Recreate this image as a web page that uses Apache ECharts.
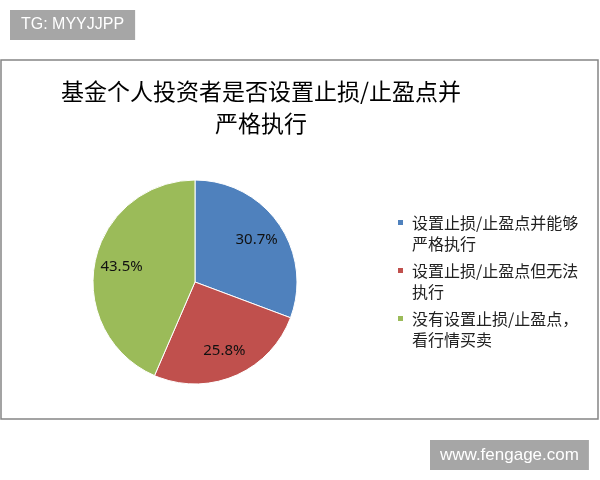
<!DOCTYPE html>
<html><head><meta charset="utf-8">
<script src="https://cdn.jsdelivr.net/npm/echarts@6/dist/echarts.min.js"></script>
<style>html,body{margin:0;padding:0;background:#fff}#c{width:600px;height:480px}</style>
</head><body><div id="c"></div>
<script>
const titleText = '基金个人投资者是否设置止损/止盈点并\n严格执行';
const categories = ['设置止损/止盈点并能够严格执行', '设置止损/止盈点但无法执行', '没有设置止损/止盈点，看行情买卖'];
const legendLines = [['设置止损/止盈点并能够', '严格执行'], ['设置止损/止盈点但无法', '执行'], ['没有设置止损/止盈点，', '看行情买卖']];
const values = [30.7, 25.8, 43.5];
const colors = ['#4F81BD', '#C0504D', '#9BBB59'];

const chart = echarts.init(document.getElementById('c'));
const pieData = categories.map((n, i) => ({ name: n, value: values[i], itemStyle: { color: colors[i] } }));
const labelData = categories.map((n, i) => ({ name: n, value: values[i] }));
const CJK = '"Noto Sans CJK SC", "Noto Sans", sans-serif';

chart.setOption({
  backgroundColor: '#fff',
  animation: false,
  graphic: [{
    type: 'rect', z: 0, silent: true,
    shape: { x: 1, y: 60, width: 597, height: 359 },
    style: { fill: 'none', stroke: '#858585', lineWidth: 1.5 }
  }],
  title: [{
    text: titleText, left: 261, top: 75, textAlign: 'center', padding: 0,
    textStyle: { fontFamily: CJK, fontSize: 23, lineHeight: 32, fontWeight: 'normal', color: '#000' }
  }, {
    text: 'TG: MYYJJPP', left: 10, top: 10, padding: [7, 11], backgroundColor: '#a6a6a6',
    textStyle: { fontFamily: '"Liberation Sans", Arial, sans-serif', fontSize: 16, lineHeight: 16, fontWeight: 'normal', color: '#fff' }
  }, {
    text: 'www.fengage.com', left: 430, top: 440, padding: [6.5, 10], backgroundColor: '#a6a6a6',
    textStyle: { fontFamily: '"Liberation Sans", Arial, sans-serif', fontSize: 17, lineHeight: 17, fontWeight: 'normal', color: '#fff' }
  }],
  legend: {
    orient: 'vertical', left: 396, top: 191, padding: 0, itemGap: -15,
    itemWidth: 7, itemHeight: 7, icon: 'rect',
    data: categories,
    formatter: name => '\n' + legendLines[categories.indexOf(name)].join('\n'),
    textStyle: { fontFamily: CJK, fontSize: 16, lineHeight: 21, color: '#222', padding: [0, 0, 0, 3] }
  },
  series: [{
    type: 'pie', center: [195, 282], radius: 102, startAngle: 90, clockwise: true,
    silent: true, label: { show: false }, labelLine: { show: false },
    itemStyle: { borderColor: '#fff', borderWidth: 1 },
    data: pieData
  }, {
    type: 'pie', center: [195, 282], radius: [42, 102], startAngle: 90, clockwise: true,
    silent: true, legendHoverLink: false,
    itemStyle: { color: 'rgba(0,0,0,0)', borderWidth: 0 },
    label: { show: true, position: 'inside', formatter: '{c}%', color: '#111',
      fontFamily: '"Noto Sans", sans-serif', fontSize: 15 },
    labelLine: { show: false },
    data: labelData
  }]
});
</script></body></html>
